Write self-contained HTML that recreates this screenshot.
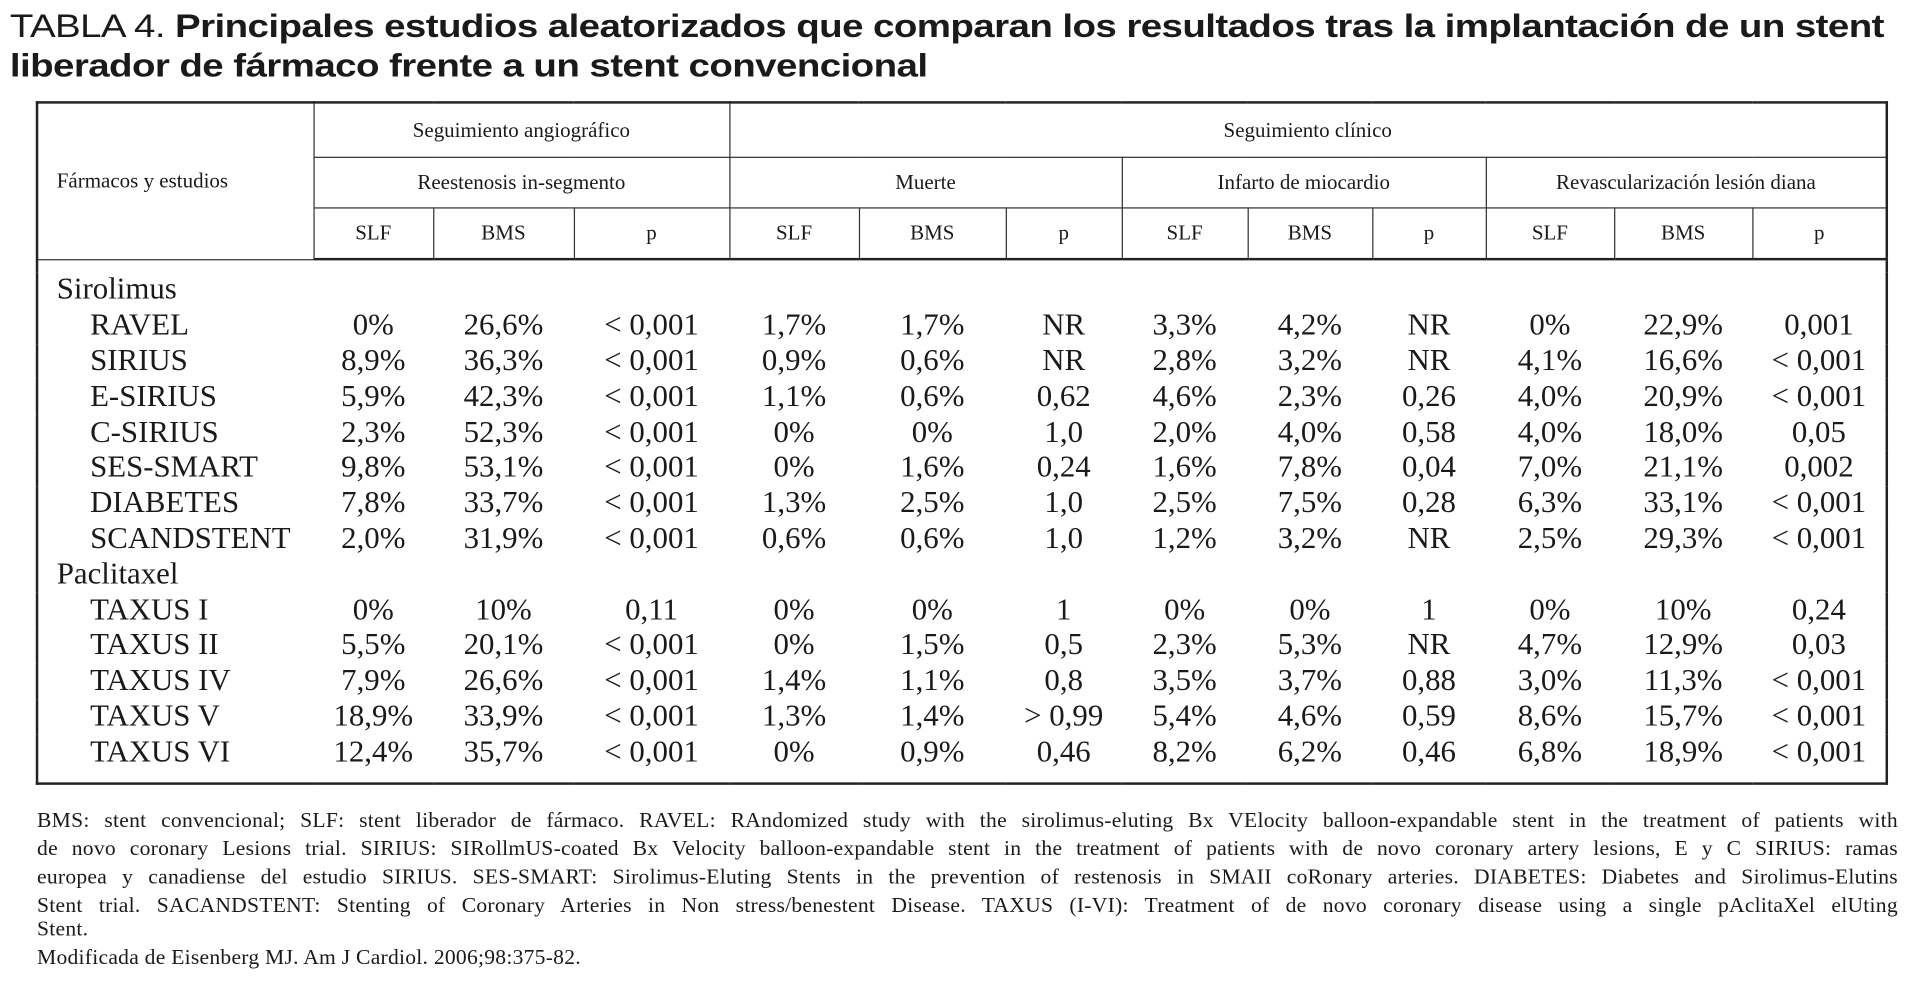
<!DOCTYPE html>
<html><head><meta charset="utf-8">
<style>
html,body{margin:0;padding:0;background:#fff;width:1925px;height:984px;overflow:hidden}
#wrap{position:absolute;left:0;top:0;width:1560px;height:797px;transform:scale(1.234);transform-origin:0 0;color:#1a1a1a}
.title{position:absolute;left:8px;font-family:"Liberation Sans",sans-serif;font-size:26px;white-space:nowrap;letter-spacing:-0.4px;transform:scaleX(1.2);transform-origin:0 0}
.title b{font-weight:bold}
table{position:absolute;left:29px;top:82px;border-collapse:collapse;font-family:"Liberation Serif",serif;table-layout:fixed;width:1499px;border:2px solid #222}
td{padding:0;text-align:center;font-size:25px;height:28.8px;line-height:28px;white-space:nowrap}
thead td{font-size:17px;border:1.3px solid #333;line-height:18px}
tr.h1 td{height:43px}tr.h2 td{height:40px}tr.h3 td{height:40px}
thead tr.h3 td{border-bottom:2px solid #222}
td.name{text-align:left;padding-left:42px}
td.grp{text-align:left;padding-left:15px}
tr.pad td{height:10px}
.fn{position:absolute;left:30px;width:1508px;font-family:"Liberation Serif",serif;font-size:17.5px;letter-spacing:0.2px;text-align:justify;text-align-last:justify;white-space:nowrap;line-height:20px}
.fn.l{text-align-last:left}
</style></head><body>
<div id="wrap">
<div class="title" style="top:6px">TABLA 4. <b>Principales estudios aleatorizados que comparan los resultados tras la implantación de un stent</b></div>
<div class="title" style="top:38px"><b>liberador de fármaco frente a un stent convencional</b></div>
<table>
<colgroup><col style="width:224px"><col style="width:97px"><col style="width:114px"><col style="width:126px"><col style="width:105px"><col style="width:119px"><col style="width:94px"><col style="width:102px"><col style="width:101px"><col style="width:92px"><col style="width:104px"><col style="width:112px"><col style="width:109px"></colgroup>
<thead>
<tr class="h1"><td rowspan="3" style="text-align:left;padding-left:15px">Fármacos y estudios</td><td colspan="3">Seguimiento angiográfico</td><td colspan="9">Seguimiento clínico</td></tr>
<tr class="h2"><td colspan="3">Reestenosis in-segmento</td><td colspan="3">Muerte</td><td colspan="3">Infarto de miocardio</td><td colspan="3">Revascularización lesión diana</td></tr>
<tr class="h3"><td>SLF</td><td>BMS</td><td>p</td><td>SLF</td><td>BMS</td><td>p</td><td>SLF</td><td>BMS</td><td>p</td><td>SLF</td><td>BMS</td><td>p</td></tr>
</thead>
<tbody id="tb"></tbody>
</table>
<div class="fn" style="top:654px">BMS: stent convencional; SLF: stent liberador de fármaco. RAVEL: RAndomized study with the sirolimus-eluting Bx VElocity balloon-expandable stent in the treatment of patients with</div>
<div class="fn" style="top:677px">de novo coronary Lesions trial. SIRIUS: SIRollmUS-coated Bx Velocity balloon-expandable stent in the treatment of patients with de novo coronary artery lesions, E y C SIRIUS: ramas</div>
<div class="fn" style="top:700px">europea y canadiense del estudio SIRIUS. SES-SMART: Sirolimus-Eluting Stents in the prevention of restenosis in SMAII coRonary arteries. DIABETES: Diabetes and Sirolimus-Elutins</div>
<div class="fn" style="top:723px">Stent trial. SACANDSTENT: Stenting of Coronary Arteries in Non stress/benestent Disease. TAXUS (I-VI): Treatment of de novo coronary disease using a single pAclitaXel elUting</div>
<div class="fn l" style="top:742px">Stent.</div>
<div class="fn l" style="top:765px">Modificada de Eisenberg MJ. Am J Cardiol. 2006;98:375-82.</div>
</div>
<script>
const groups=["Sirolimus","Paclitaxel"];
const studies=[["RAVEL","SIRIUS","E-SIRIUS","C-SIRIUS","SES-SMART","DIABETES","SCANDSTENT"],["TAXUS I","TAXUS II","TAXUS IV","TAXUS V","TAXUS VI"]];
const values=[
[["0%","26,6%","< 0,001","1,7%","1,7%","NR","3,3%","4,2%","NR","0%","22,9%","0,001"],
["8,9%","36,3%","< 0,001","0,9%","0,6%","NR","2,8%","3,2%","NR","4,1%","16,6%","< 0,001"],
["5,9%","42,3%","< 0,001","1,1%","0,6%","0,62","4,6%","2,3%","0,26","4,0%","20,9%","< 0,001"],
["2,3%","52,3%","< 0,001","0%","0%","1,0","2,0%","4,0%","0,58","4,0%","18,0%","0,05"],
["9,8%","53,1%","< 0,001","0%","1,6%","0,24","1,6%","7,8%","0,04","7,0%","21,1%","0,002"],
["7,8%","33,7%","< 0,001","1,3%","2,5%","1,0","2,5%","7,5%","0,28","6,3%","33,1%","< 0,001"],
["2,0%","31,9%","< 0,001","0,6%","0,6%","1,0","1,2%","3,2%","NR","2,5%","29,3%","< 0,001"]],
[["0%","10%","0,11","0%","0%","1","0%","0%","1","0%","10%","0,24"],
["5,5%","20,1%","< 0,001","0%","1,5%","0,5","2,3%","5,3%","NR","4,7%","12,9%","0,03"],
["7,9%","26,6%","< 0,001","1,4%","1,1%","0,8","3,5%","3,7%","0,88","3,0%","11,3%","< 0,001"],
["18,9%","33,9%","< 0,001","1,3%","1,4%","> 0,99","5,4%","4,6%","0,59","8,6%","15,7%","< 0,001"],
["12,4%","35,7%","< 0,001","0%","0,9%","0,46","8,2%","6,2%","0,46","6,8%","18,9%","< 0,001"]]];
const tb=document.getElementById('tb');
function row(){const r=document.createElement('tr');tb.appendChild(r);return r;}
let p=row();p.className='pad';p.innerHTML='<td colspan="13"></td>';
groups.forEach((g,gi)=>{
  const r=row();
  
  
  const c=document.createElement('td');c.className='grp';c.colSpan=13;c.textContent=g;r.appendChild(c);
  studies[gi].forEach((s,si)=>{
    const rr=row();
    
    
    const n=document.createElement('td');n.className='name';n.textContent=s;rr.appendChild(n);
    values[gi][si].forEach(v=>{const d=document.createElement('td');d.textContent=v;rr.appendChild(d);});
  });
});
p=row();p.className='pad';p.innerHTML='<td colspan="13"></td>';
</script>
</body></html>
